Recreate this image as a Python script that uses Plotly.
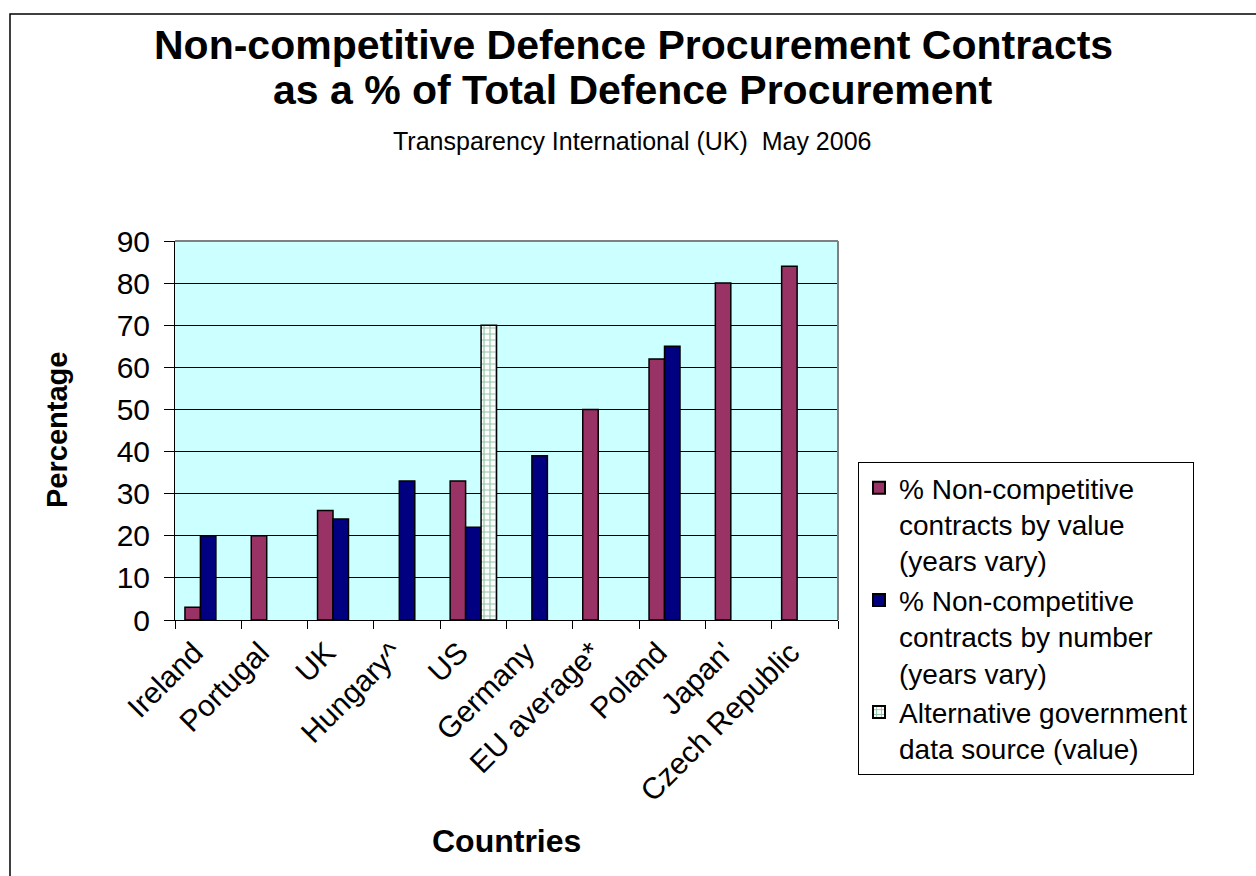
import plotly.graph_objects as go

categories = ["Ireland", "Portugal", "UK", "Hungary^", "US", "Germany",
              "EU average*", "Poland", "Japan'", "Czech Republic"]
by_value = [3, 20, 26, None, 33, None, 50, 62, 80, 84]
by_number = [20, None, 24, 33, 22, 39, None, 65, None, None]
alternative = [None, None, None, None, 70, None, None, None, None, None]

name_value = "% Non-competitive<br>contracts by value<br>(years vary)"
name_number = "% Non-competitive<br>contracts by number<br>(years vary)"
name_alt = "Alternative government<br>data source (value)"

FONT = "Liberation Sans, Arial, sans-serif"

# pixel geometry helpers
W, H = 1256, 876
L, R, T, B = 175, 838, 241, 620
pw, ph = R - L, B - T


def px(x):
    return (x - L) / pw


def py(y):
    return (B - y) / ph


fig = go.Figure()
fig.add_trace(go.Bar(x=categories, y=by_value, name=name_value,
                     marker=dict(color="#993366", line=dict(color="black", width=1.5))))
fig.add_trace(go.Bar(x=categories, y=by_number, name=name_number,
                     marker=dict(color="#000080", line=dict(color="black", width=1.5))))
fig.add_trace(go.Bar(x=categories, y=alternative, name=name_alt,
                     marker=dict(color="white", line=dict(color="black", width=1.5),
                                 pattern=dict(shape="+", fgcolor="#1F8A4C", bgcolor="white",
                                              size=6, solidity=0.35))))

fig.update_layout(
    width=W, height=H,
    margin=dict(l=L, r=W - R, t=T, b=H - B, autoexpand=False),
    paper_bgcolor="white",
    plot_bgcolor="#CCFFFF",
    barmode="group",
    bargap=0.3,
    bargroupgap=0,
    font=dict(family=FONT, color="black"),
    showlegend=True,
    legend=dict(x=px(858), y=py(462), xanchor="left", yanchor="top",
                bgcolor="white", bordercolor="black", borderwidth=1,
                font=dict(family=FONT, size=28, color="black"),
                tracegroupgap=10, itemsizing="constant", valign="top"),
    xaxis=dict(showline=True, linecolor="black", linewidth=1,
               ticks="outside", ticklen=8, tickcolor="black", tickson="boundaries",
               tickangle=-45, tickfont=dict(family=FONT, size=30, color="black"),
               ticklabelshift=-14, ticklabelstandoff=2,
               showgrid=False),
    yaxis=dict(range=[0, 90], dtick=10, tick0=0, showline=True, linecolor="black",
               linewidth=1, ticks="outside", ticklen=10, tickcolor="black",
               tickfont=dict(family=FONT, size=30, color="black"),
               showgrid=True, gridcolor="black", gridwidth=1, zeroline=False,
               ticklabelstandoff=8),
)

annotations = [
    dict(text="<b>Non-competitive Defence Procurement Contracts</b>", x=px(633), y=py(45),
         font=dict(size=41)),
    dict(text="<b>as a % of Total Defence Procurement</b>", x=px(633), y=py(90),
         font=dict(size=41)),
    dict(text="Transparency International (UK)  May 2006", x=px(632), y=py(141),
         font=dict(size=25)),
    dict(text="<b>Countries</b>", x=px(506), y=py(841), font=dict(size=32)),
    dict(text="<b>Percentage</b>", x=px(57), y=py(430), textangle=-90, font=dict(size=29)),
]
for a in annotations:
    a.update(xref="paper", yref="paper", showarrow=False, xanchor="center", yanchor="middle")
    a["font"].update(family=FONT, color="black")
fig.update_layout(annotations=annotations)

fig.add_shape(type="line", xref="paper", yref="paper", x0=0, x1=1, y0=1, y1=1,
              line=dict(color="#808080", width=2))
fig.add_shape(type="line", xref="paper", yref="paper", x0=1, x1=1, y0=0, y1=1,
              line=dict(color="#808080", width=2))
fig.add_shape(type="rect", xref="paper", yref="paper", x0=px(10), x1=px(1300),
              y0=py(14), y1=py(900), line=dict(color="black", width=1.5),
              fillcolor="rgba(0,0,0,0)")

fig.write_html("out.html")
